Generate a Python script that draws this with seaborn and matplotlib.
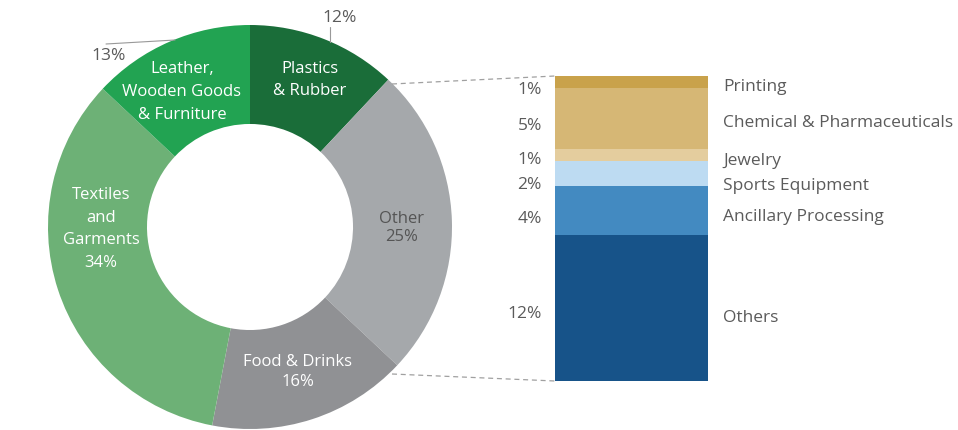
import matplotlib
matplotlib.use("Agg")
import matplotlib.pyplot as plt
import seaborn as sns
import numpy as np

sns.set_theme(style="white")
plt.rcParams["font.family"] = ["Open Sans", "DejaVu Sans"]

# Donut: share of sectors
sectors = ["Plastics\n& Rubber", "Other", "Food & Drinks", "Textiles\nand\nGarments", "Leather,\nWooden Goods\n& Furniture"]
sector_values = [12, 25, 16, 34, 13]
sector_colors = ["#1a6d39", "#a5a8ab", "#909194", "#6db176", "#22a352"]

# Breakdown of "Other" (top to bottom)
sub_labels = ["Printing", "Chemical & Pharmaceuticals", "Jewelry", "Sports Equipment", "Ancillary Processing", "Others"]
sub_values = [1, 5, 1, 2, 4, 12]
sub_colors = ["#c9a24b", "#d6b775", "#e4cd9e", "#bddbf2", "#438ac1", "#175389"]

W, H = 958, 431
fig = plt.figure(figsize=(W / 100, H / 100), dpi=100)

def px_axes(x0, y0, x1, y1):
    return fig.add_axes([x0 / W, 1 - y1 / H, (x1 - x0) / W, (y1 - y0) / H])

# donut
cx, cy, R = 250, 228, 202
ax_pie = px_axes(cx - R, cy - R, cx + R, cy + R)
wedges, _ = ax_pie.pie(sector_values, colors=sector_colors, startangle=90, counterclock=False,
                       radius=1.0, wedgeprops=dict(width=0.49, edgecolor="none"))
ax_pie.set_xlim(-1, 1)
ax_pie.set_ylim(-1, 1)
ax_pie.set_aspect("equal")
ax_pie.axis("off")

# stacked bar
bx0, bx1, by0, by1 = 555, 708, 77, 382
ax_bar = px_axes(bx0, by0, bx1, by1)
total = sum(sub_values)
bottom = 0
stack = list(zip(sub_labels, sub_values, sub_colors))[::-1]
mids = {}
for lab, val, col in stack:
    sns.barplot(x=["Other"], y=[val], bottom=bottom, color=col, width=1.0,
                saturation=1, ax=ax_bar, edgecolor="none", linewidth=0)
    mids[lab] = bottom + val / 2
    bottom += val
ax_bar.set_xlim(-0.5, 0.5)
ax_bar.set_ylim(0, total)
ax_bar.axis("off")

# overlay for annotations in pixel coordinates
ov = fig.add_axes([0, 0, 1, 1], facecolor="none")
ov.set_xlim(0, W)
ov.set_ylim(H, 0)
ov.axis("off")

txt = "#5b5b5b"
fs = 12.5
# connector dashed lines
ov.plot([392, bx0], [85, by0], ls=(0, (4, 3)), color="#a0a0a0", lw=0.9)
ov.plot([392, bx0], [375, by1], ls=(0, (4, 3)), color="#a0a0a0", lw=0.9)

# labels inside the donut
inner = [(310, 80, "white", 1.45), (402, 228, "#555555", 1.15), (298, 372, "white", 1.4),
         (101, 229, "white", 1.55), (182, 92, "white", 1.55)]
for (x, y, c, ls), name, v in zip(inner, sectors, sector_values):
    if name in ("Plastics\n& Rubber", "Leather,\nWooden Goods\n& Furniture"):
        s = name
    else:
        s = f"{name}\n{v}%"
    ov.text(x, y, s, ha="center", va="center", color=c, fontsize=12, linespacing=ls)

# outside labels with leader lines
ov.text(340, 18, f"{sector_values[0]}%", ha="center", va="center", color=txt, fontsize=fs)
ov.plot([330, 330], [28, 43], color="#999999", lw=0.8)
ov.text(109, 56, f"{sector_values[4]}%", ha="center", va="center", color=txt, fontsize=fs)
ov.plot([106, 175], [45, 41], color="#999999", lw=0.8)

# bar labels (small nudges keep the thin segments' labels apart)
pct_nudge = {"Printing": 7, "Chemical & Pharmaceuticals": 6, "Jewelry": 4, "Sports Equipment": 10,
             "Ancillary Processing": 8, "Others": 5}
lab_nudge = {"Printing": 4, "Chemical & Pharmaceuticals": 3, "Jewelry": 5, "Sports Equipment": 11,
             "Ancillary Processing": 6, "Others": 9}
unit = (by1 - by0) / total
for lab, val, col in stack:
    yc = by1 - mids[lab] * unit
    ov.text(542, yc + pct_nudge[lab], f"{val}%", ha="right", va="center", color=txt, fontsize=fs)
    ov.text(723, yc + lab_nudge[lab], lab, ha="left", va="center", color=txt, fontsize=fs)

fig.savefig("out.png", dpi=100)
